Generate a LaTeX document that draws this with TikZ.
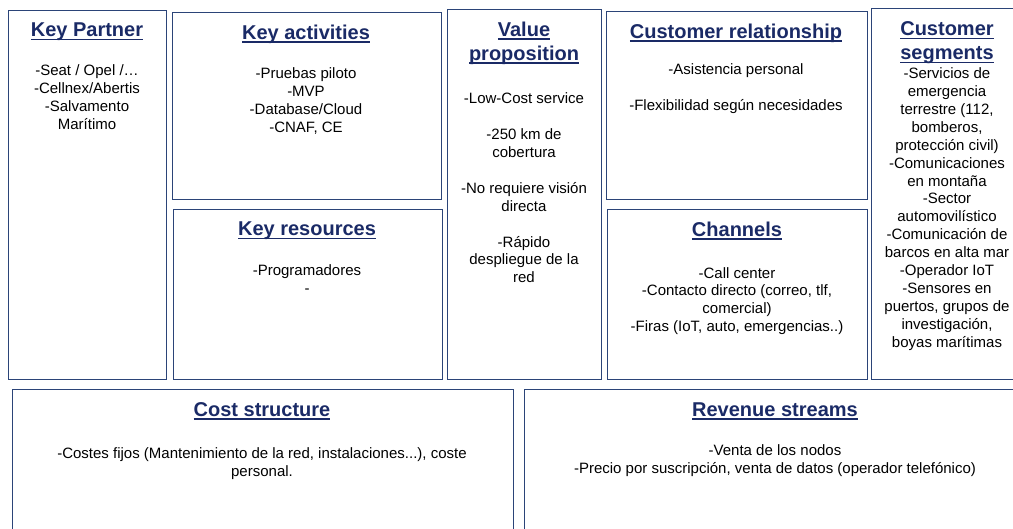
\documentclass[tikz,border=0pt]{standalone}
\usepackage{fontspec}
\setmainfont{Liberation Sans}
\usetikzlibrary{positioning}

\definecolor{framenavy}{HTML}{2B4478}
\definecolor{titlenavy}{HTML}{1A2A66}

% underline for the block titles
\newsavebox{\titlebox}
\newcommand{\titleline}[1]{\sbox{\titlebox}{#1}\rlap{\rule[-3.4pt]{\wd\titlebox}{1.5pt}}\usebox{\titlebox}}

\tikzset{
  cell/.style={draw=framenavy, line width=1.4pt, inner sep=0pt, anchor=north west},
  title/.style={font=\fontsize{20}{24}\selectfont\bfseries, text=titlenavy, align=center, inner sep=0pt},
  body/.style={font=\fontsize{15}{17.9}\selectfont, align=center, inner sep=0pt}
}

\begin{document}
\begin{tikzpicture}[x=1pt, y=-1pt]
\useasboundingbox (0,0) rectangle (1013,529);
\clip (0,0) rectangle (1013,529);

% canvas blocks
\node[cell, minimum width=158pt, minimum height=369pt] (partners) at (8,10) {};
\node[cell, minimum width=269pt, minimum height=187pt] (activities) at (172,12) {};
\node[cell, minimum width=269pt, minimum height=170pt] (resources) at (173,209) {};
\node[cell, minimum width=154pt, minimum height=370pt] (value) at (447,9) {};
\node[cell, minimum width=261pt, minimum height=188pt] (relations) at (606,11) {};
\node[cell, minimum width=260pt, minimum height=170pt] (channels) at (607,209) {};
\node[cell, minimum width=152pt, minimum height=371pt] (segments) at (871,8) {};
\node[cell, minimum width=501pt, minimum height=160pt] (costs) at (12,389) {};
\node[cell, minimum width=502pt, minimum height=160pt] (revenue) at (524,389) {};

% titles
\node[title] (partners-t) at (87,32) {\titleline{Key Partner}};
\node[title] (activities-t) at (306,34) {\titleline{Key activities}};
\node[title] (resources-t) at (307,231) {\titleline{Key resources}};
\node[title] (value-t) at (524,43) {\titleline{Value}\\ \titleline{proposition}};
\node[title] (relations-t) at (736,33) {\titleline{Customer relationship}};
\node[title] (channels-t) at (737,231) {\titleline{Channels}};
\node[title] (segments-t) at (947,43) {\titleline{Customer}\\ \titleline{segments}};
\node[title] (costs-t) at (262,411) {\titleline{Cost structure}};
\node[title] (revenue-t) at (775,411) {\titleline{Revenue streams}};

% contents
\node[body] (partners-b) at (87,97) {-Seat / Opel /\ldots\\ -Cellnex/Abertis\\ -Salvamento\\ Marítimo};
\node[body] (activities-b) at (306,101) {-Pruebas piloto\\ -MVP\\ -Database/Cloud\\ -CNAF, CE};
\node[body] (resources-b) at (307,279) {-Programadores\\ -};
\node[body] (value-b) at (524,188) {-Low-Cost service\\[17.9pt]
  -250 km de\\ cobertura\\[17.9pt]
  -No requiere visión\\ directa\\[17.9pt]
  -Rápido\\ despliegue de la\\ red};
\node[body] (relations-b) at (736,89) {-Asistencia personal\\[17.9pt] -Flexibilidad según necesidades};
\node[body] (channels-b) at (737,301) {-Call center\\ -Contacto directo (correo, tlf,\\ comercial)\\ -Firas (IoT, auto, emergencias..)};
\node[body] (segments-b) at (947,209) {-Servicios de\\ emergencia\\ terrestre (112,\\ bomberos,\\ protección civil)\\
  -Comunicaciones\\ en montaña\\ -Sector\\ automovilístico\\ -Comunicación de\\ barcos en alta mar\\
  -Operador IoT\\ -Sensores en\\ puertos, grupos de\\ investigación,\\ boyas marítimas};
\node[body] (costs-b) at (262,464) {-Costes fijos (Mantenimiento de la red, instalaciones...), coste\\ personal.};
\node[body] (revenue-b) at (775,461) {-Venta de los nodos\\ -Precio por suscripción, venta de datos (operador telefónico)};
\end{tikzpicture}
\end{document}
